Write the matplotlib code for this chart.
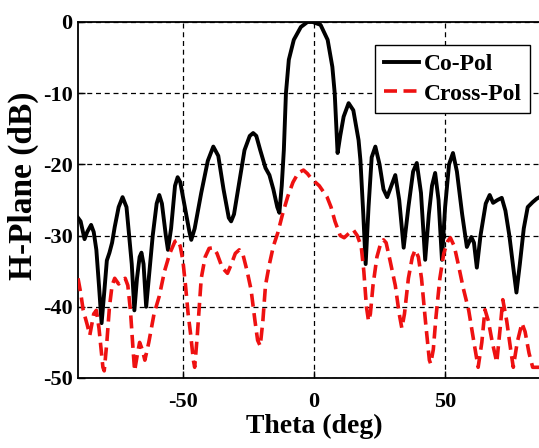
import numpy as np
import matplotlib
matplotlib.use('Agg')
import matplotlib.pyplot as plt

plt.rcParams['font.family'] = 'Liberation Serif'
plt.rcParams['font.weight'] = 'bold'
plt.rcParams['axes.unicode_minus'] = False

# Co-Pol pattern (theta in deg, level in dB)
co_theta = [-90, -89, -87.5, -86.5, -85, -84, -83, -82, -81, -80, -79, -78, -77, -76,
            -74.5, -73, -71.5, -70.5, -69.5, -68.5, -67.5, -66.5, -65.8, -65, -64,
            -63, -61.5, -60, -59, -58, -56.5, -55.7, -54.5, -53, -52, -51, -49.5,
            -47.5, -46.8, -45.5, -43, -40.5, -38.4, -36.5, -34.5, -32.5, -31.6,
            -30.5, -28.5, -26.5, -24.5, -23.2, -22, -20.5, -18.5, -17, -15.5, -14,
            -13.2, -12.3, -11.5, -10.7, -9.6, -7.7, -5, -2.5, -0.5, 2.5, 5.2, 7, 7.9,
            9, 10, 11.3, 13.2, 15, 17, 17.7, 18.8, 19.7, 20.8, 22, 23.4, 25, 26.5,
            27.9, 29.5, 31, 32.5, 34.2, 36, 37.8, 39.2, 40.8, 42.4, 43.8, 45, 46.2,
            47.5, 48.8, 50, 51.5, 53, 54.5, 56.5, 58.3, 60, 61, 62.1, 63.5, 65.5, 67,
            68.3, 70, 71.6, 73, 74.5, 76, 77.2, 78.5, 80, 81.5, 83.4, 85, 86]
co_db = [-27.5, -28, -30.5, -29.5, -28.5, -29.5, -32, -37, -42.3, -38, -33.5, -32.4, -31, -28.8,
         -26, -24.6, -26, -30, -34, -40.5, -36, -33, -32.4, -34, -40,
         -36, -30, -25.5, -24.3, -25.5, -30, -32, -29, -23, -21.8, -22.5, -25.5,
         -29.5, -30.6, -29, -24, -19.5, -17.5, -18.8, -23.5, -27.5, -28,
         -27, -22.5, -18, -16, -15.6, -16, -18, -20.5, -21.5, -23.5, -26,
         -26.8, -23, -18, -10, -5.3, -2.5, -0.7, 0, 0, -0.4, -2.5, -6.3, -10,
         -18.4, -16, -13.3, -11.4, -12.4, -16.6, -19.4, -27, -34, -26, -19, -17.5, -20, -23.5,
         -24.6, -23, -21.5, -25, -31.7, -26, -21, -19.8, -24, -33.4, -27, -23, -21.2,
         -25, -33.4, -26, -20, -18.4, -21, -27, -31.6, -30.2, -31, -34.5, -30, -25.5, -24.3,
         -25.4, -25, -24.7, -26.5, -30, -34.5, -38, -34, -29, -26, -25.3, -24.8, -24.6]

# Cross-Pol pattern
cx_theta = [-90, -89, -88, -86.5, -85.5, -84, -83, -82, -80.5, -80, -79, -78, -77, -76,
            -74.5, -73.5, -72, -71, -70, -69, -68.4, -67.5, -66.5, -65.5, -64.5, -63,
            -61, -59, -57, -55, -53, -52, -51, -50, -49, -48, -47, -46, -45.5, -44.5,
            -43, -41.5, -40, -38.4, -37, -35, -33, -31.5, -30, -28.5, -27, -25.5,
            -24, -22.5, -21.5, -20.5, -19.5, -18.5, -17, -15.5, -13.8, -12, -10, -8,
            -6, -4, -2.5, -1, 0.5, 2, 3.5, 5, 6.5, 8, 10, 11.5, 13, 15, 16.5, 18, 19,
            20, 20.8, 21.5, 22.5, 24, 25.5, 26.5, 27.5, 29, 31, 32.5, 33.5, 34.5, 36,
            37.5, 38.6, 39.8, 41, 42.5, 44, 44.5, 45.5, 46.5, 48, 49.5, 51, 52, 53.5,
            55, 57, 59, 61, 62.6, 64, 65.2, 66.5, 68, 69.7, 71, 72, 73.5, 75, 76, 77.5,
            79.3, 80.5, 82, 83.4, 86]
cx_db = [-36, -38, -40.5, -42.5, -44, -41, -40.5, -43, -48.5, -49, -45, -40, -37, -36,
         -36.8, -36.3, -36, -37, -40.5, -46, -49, -47, -45, -46, -47.5, -45,
         -41, -38.5, -35, -32.5, -30.8, -30.6, -31.5, -33.5, -37, -41, -44, -47.5, -48.5, -44,
         -36, -33, -31.8, -31.7, -32.5, -34.5, -35.3, -34, -32.5, -32, -32.8, -35,
         -37.6, -42, -44.7, -45.5, -42, -37, -34, -31.5, -29.6, -27, -24.5, -22.5,
         -21.2, -20.8, -21.3, -22, -22.5, -23, -23.8, -24.6, -26, -28, -30, -30.3, -29.8, -29.2, -30, -31.5, -35,
         -40, -42, -41, -37, -33, -31, -30.6, -31, -33.5, -37, -41, -43, -41, -36,
         -33, -32, -33, -36, -42, -47.5, -48, -46, -41.5, -36, -32.5, -30.8, -30.3, -31.5,
         -34, -37.5, -40.5, -45, -48.5, -45, -40.4, -42, -45, -47.8, -43, -39, -42, -46, -48.5, -45,
         -42.3, -43.5, -46.5, -48.5, -48.5]

x_ticks = [-50, 0, 50]
y_ticks = [0, -10, -20, -30, -40, -50]

fig = plt.figure(figsize=(5.39, 4.48), dpi=100)
# right edge of the axes sits just past the figure edge, as in the reference
ax = fig.add_axes([0.1447, 0.1563, 0.8757, 0.7946])

ax.plot(co_theta, co_db, color='black', lw=2.8, label='Co-Pol', zorder=3)
ax.plot(cx_theta, cx_db, color='#ee1111', lw=2.6, linestyle=(0, (3.6, 1.8)),
        label='Cross-Pol', zorder=3)

ax.set_xlim(-90, 90)
ax.set_ylim(-50, 0)
ax.set_xticks(x_ticks)
ax.set_yticks(y_ticks)
ax.grid(True, color='black', linestyle=(0, (4, 3)), lw=0.9)
ax.tick_params(direction='in', length=5, width=1, labelsize=16)
ax.tick_params(axis='x', pad=10)
ax.tick_params(axis='y', pad=4)
for sp in ax.spines.values():
    sp.set_linewidth(1.3)

ax.set_xlabel('Theta (deg)', fontsize=20, fontweight='bold')
ax.xaxis.set_label_coords(0.5, -0.1)
ax.set_ylabel('H-Plane (dB)', fontsize=24, fontweight='bold')
ax.yaxis.set_label_coords(-0.082, 0.54)

leg = ax.legend(loc='upper right', bbox_to_anchor=(530 / 539, 1 - 45 / 448),
                bbox_transform=fig.transFigure, borderaxespad=0, fontsize=17,
                handlelength=1.5, handletextpad=0.2, labelspacing=0.35,
                borderpad=0.35, fancybox=False, framealpha=1, edgecolor='black')
leg.get_frame().set_linewidth(1.0)

fig.savefig('out.png', dpi=100)
